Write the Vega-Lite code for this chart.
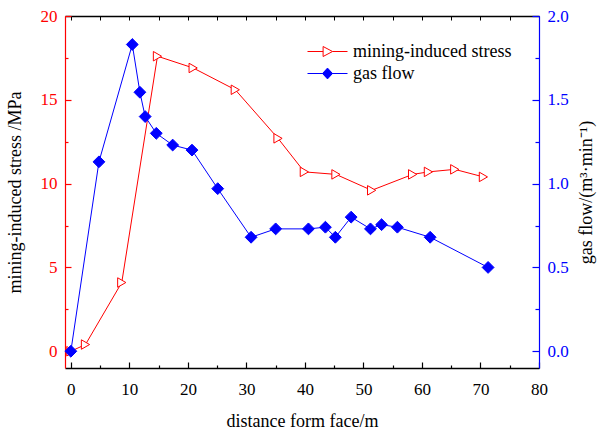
{
  "$schema": "https://vega.github.io/schema/vega-lite/v6.json",
  "width": 474,
  "height": 352,
  "autosize": {"type": "none"},
  "padding": {"left": 65, "top": 16, "right": 75, "bottom": 61},
  "background": "white",
  "config": {
    "view": {"stroke": null},
    "font": "Liberation Serif",
    "axis": {"labelFont": "Liberation Serif", "titleFont": "Liberation Serif", "labelFontSize": 17, "titleFontSize": 18, "titleFontWeight": "normal", "grid": false, "titleColor": "black", "labelFlush": false},
    "legend": {"labelFont": "Liberation Serif", "labelFontSize": 18, "labelColor": "black"}
  },
  "datasets": {
    "stress": [
      {"distance": 0, "stress": 0},
      {"distance": 2.5, "stress": 0.4},
      {"distance": 8.7, "stress": 4.1},
      {"distance": 14.8, "stress": 17.6},
      {"distance": 20.9, "stress": 16.9},
      {"distance": 28.1, "stress": 15.6},
      {"distance": 35.4, "stress": 12.7},
      {"distance": 39.9, "stress": 10.7},
      {"distance": 45.3, "stress": 10.55},
      {"distance": 51.4, "stress": 9.6},
      {"distance": 58.4, "stress": 10.55},
      {"distance": 61.1, "stress": 10.7},
      {"distance": 65.6, "stress": 10.85},
      {"distance": 70.5, "stress": 10.4}
    ],
    "gas": [
      {"distance": 0, "gas": 0},
      {"distance": 4.8, "gas": 1.13},
      {"distance": 10.5, "gas": 1.83},
      {"distance": 11.8, "gas": 1.545},
      {"distance": 12.7, "gas": 1.40},
      {"distance": 14.6, "gas": 1.30},
      {"distance": 17.4, "gas": 1.23},
      {"distance": 20.7, "gas": 1.20},
      {"distance": 25.1, "gas": 0.97},
      {"distance": 30.8, "gas": 0.68},
      {"distance": 35.0, "gas": 0.73},
      {"distance": 40.6, "gas": 0.73},
      {"distance": 43.5, "gas": 0.74},
      {"distance": 45.2, "gas": 0.68},
      {"distance": 47.9, "gas": 0.80},
      {"distance": 51.2, "gas": 0.73},
      {"distance": 53.1, "gas": 0.755},
      {"distance": 55.8, "gas": 0.74},
      {"distance": 61.4, "gas": 0.68},
      {"distance": 71.3, "gas": 0.50}
    ],
    "empty": [{"d": 0, "v": 0, "series": "none"}]
  },
  "layer": [
    {
      "data": {"name": "stress"},
      "encoding": {
        "x": {"field": "distance", "type": "quantitative",
          "scale": {"domain": [-1, 80], "nice": false, "zero": false},
          "axis": {"orient": "bottom", "title": "distance form face/m", "values": [0,10,20,30,40,50,60,70,80],
            "domain": false, "tickSize": 6, "offset": -6, "labelPadding": 13, "titlePadding": 15,
            "labelColor": "black", "tickColor": "black", "tickWidth": 1.2}},
        "y": {"field": "stress", "type": "quantitative",
          "scale": {"domain": [-1, 20], "nice": false, "zero": false},
          "axis": {"orient": "left", "title": "mining-induced stress /MPa", "values": [0,5,10,15,20],
            "domain": false, "tickSize": 6, "offset": -6, "labelPadding": 8, "titlePadding": 16,
            "labelColor": "#ff0000", "tickColor": "#ff0000", "tickWidth": 1.2}}
      },
      "layer": [
        {"mark": {"type": "line", "color": "#ff0000", "strokeWidth": 1}},
        {"mark": {"type": "point", "shape": "triangle-right", "size": 90, "filled": true, "fill": "white", "stroke": "#ff0000", "strokeWidth": 1, "opacity": 1}}
      ]
    },
    {
      "data": {"name": "gas"},
      "encoding": {
        "x": {"field": "distance", "type": "quantitative",
          "scale": {"domain": [-1, 80], "nice": false, "zero": false},
          "axis": {"orient": "top", "title": null, "values": [0,5,10,15,20,25,30,35,40,45,50,55,60,65,70,75,80],
            "labels": false, "domain": false, "tickSize": 4, "offset": -4, "tickColor": "black", "tickWidth": 1}},
        "y": {"field": "gas", "type": "quantitative",
          "scale": {"domain": [-0.1, 2.0], "nice": false, "zero": false},
          "axis": {"orient": "right", "title": "gas flow/(m³·min⁻¹)", "titleAngle": 270, "values": [0,0.5,1,1.5,2],
            "format": ".1f", "domain": false, "tickSize": 7, "offset": -7, "labelPadding": 8, "titlePadding": 27,
            "labelColor": "#0000ff", "tickColor": "#0000ff", "tickWidth": 1.2}}
      },
      "layer": [
        {"mark": {"type": "line", "color": "#0000ff", "strokeWidth": 1}},
        {"mark": {"type": "point", "shape": "diamond", "size": 140, "filled": true, "fill": "#0000ff", "stroke": "#0000ff", "strokeWidth": 1, "opacity": 1}}
      ]
    },
    {
      "data": {"name": "empty"},
      "transform": [{"filter": "false"}],
      "mark": {"type": "point"},
      "encoding": {
        "x": {"field": "d", "type": "quantitative",
          "scale": {"domain": [-1, 80], "nice": false, "zero": false},
          "axis": {"orient": "bottom", "title": null, "values": [5,15,25,35,45,55,65,75],
            "labels": false, "domain": false, "tickSize": 3, "offset": -3, "tickColor": "black", "tickWidth": 1.2}},
        "y": {"field": "v", "type": "quantitative",
          "scale": {"domain": [-1, 20], "nice": false, "zero": false},
          "axis": {"orient": "left", "title": null, "values": [2.5,7.5,12.5,17.5],
            "labels": false, "domain": false, "tickSize": 3, "offset": -3, "tickColor": "#ff0000", "tickWidth": 1.2}}
      }
    },
    {
      "data": {"name": "empty"},
      "transform": [{"filter": "false"}],
      "mark": {"type": "point"},
      "encoding": {
        "x": {"field": "d", "type": "quantitative",
          "scale": {"domain": [-1, 80], "nice": false, "zero": false},
          "axis": {"orient": "bottom", "title": null, "labels": false, "ticks": false,
            "domain": true, "domainColor": "black", "domainWidth": 1.5}},
        "y": {"field": "v", "type": "quantitative",
          "scale": {"domain": [-0.1, 2.0], "nice": false, "zero": false},
          "axis": {"orient": "right", "title": null, "values": [0.25,0.75,1.25,1.75],
            "labels": false, "domain": false, "tickSize": 4, "offset": -4, "tickColor": "#0000ff", "tickWidth": 1.2}}
      }
    },
    {
      "data": {"name": "empty"},
      "transform": [{"filter": "false"}],
      "mark": {"type": "point"},
      "encoding": {
        "x": {"field": "d", "type": "quantitative",
          "scale": {"domain": [-1, 80], "nice": false, "zero": false},
          "axis": {"orient": "top", "title": null, "labels": false, "ticks": false,
            "domain": true, "domainColor": "black", "domainWidth": 1.5}},
        "y": {"field": "v", "type": "quantitative",
          "scale": {"domain": [-1, 20], "nice": false, "zero": false},
          "axis": {"orient": "left", "title": null, "labels": false, "ticks": false,
            "domain": true, "domainColor": "#ff0000", "domainWidth": 1.2}}
      }
    },
    {
      "data": {"name": "empty"},
      "transform": [{"filter": "false"}],
      "mark": {"type": "point", "filled": true, "strokeWidth": 1},
      "encoding": {
        "y": {"field": "v", "type": "quantitative",
          "scale": {"domain": [-0.1, 2.0], "nice": false, "zero": false},
          "axis": {"orient": "right", "title": null, "labels": false, "ticks": false,
            "domain": true, "domainColor": "#0000ff", "domainWidth": 1.2}},
        "shape": {"field": "series", "type": "nominal",
          "scale": {"domain": ["mining-induced stress", "gas flow"], "range": ["M-2,0H-0.44M0.5,0H2M-0.44,-0.5L0.5,0L-0.44,0.5Z", "M-2,0H2M0,-0.54L0.5,0L0,0.54L-0.5,0Z"]},
          "legend": {"title": null, "orient": "none", "legendX": 252, "legendY": 25, "symbolSize": 400, "symbolStrokeWidth": 1, "symbolOpacity": 1, "labelOffset": 15, "rowPadding": 2, "padding": 0}},
        "stroke": {"field": "series", "type": "nominal",
          "scale": {"domain": ["mining-induced stress", "gas flow"], "range": ["#ff0000", "#0000ff"]},
          "legend": {"title": null, "orient": "none", "legendX": 252, "legendY": 25, "symbolSize": 400, "symbolStrokeWidth": 1, "symbolOpacity": 1, "labelOffset": 15, "rowPadding": 2, "padding": 0}},
        "fill": {"field": "series", "type": "nominal",
          "scale": {"domain": ["mining-induced stress", "gas flow"], "range": ["#ffffff", "#0000ff"]},
          "legend": {"title": null, "orient": "none", "legendX": 252, "legendY": 25, "symbolSize": 400, "symbolStrokeWidth": 1, "symbolOpacity": 1, "labelOffset": 15, "rowPadding": 2, "padding": 0}}
      }
    }
  ],
  "resolve": {"scale": {"y": "independent"}, "axis": {"x": "independent", "y": "independent"}}
}
